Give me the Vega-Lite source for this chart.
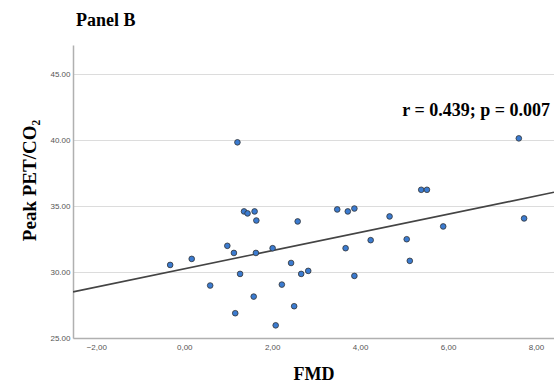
{
  "$schema": "https://vega.github.io/schema/vega-lite/v6.json",
  "width": 481,
  "height": 293,
  "autosize": "none",
  "padding": {"left": 73, "top": 45, "right": 0, "bottom": 48},
  "background": "white",
  "config": {
    "view": {"stroke": null},
    "font": "Liberation Sans"
  },
  "title": {
    "text": "Panel B",
    "anchor": "start",
    "frame": "group",
    "font": "Liberation Serif",
    "fontSize": 18,
    "fontWeight": "bold",
    "color": "#000",
    "offset": 15,
    "dx": 3
  },
  "datasets": {
    "points": [
      {"fmd": 1.21, "peak": 39.84},
      {"fmd": 1.36, "peak": 34.60},
      {"fmd": 1.44, "peak": 34.45},
      {"fmd": 1.60, "peak": 34.60},
      {"fmd": 1.64, "peak": 33.91},
      {"fmd": 2.58, "peak": 33.84},
      {"fmd": 3.48, "peak": 34.75},
      {"fmd": 3.72, "peak": 34.60},
      {"fmd": 3.87, "peak": 34.82},
      {"fmd": 4.67, "peak": 34.22},
      {"fmd": 4.24, "peak": 32.42},
      {"fmd": 3.67, "peak": 31.81},
      {"fmd": 3.87, "peak": 29.71},
      {"fmd": 2.82, "peak": 30.09},
      {"fmd": 2.66, "peak": 29.86},
      {"fmd": 2.43, "peak": 30.69},
      {"fmd": 2.01, "peak": 31.81},
      {"fmd": 1.63, "peak": 31.45},
      {"fmd": 1.13, "peak": 31.45},
      {"fmd": 0.98, "peak": 31.99},
      {"fmd": 0.17, "peak": 31.00},
      {"fmd": -0.32, "peak": 30.54},
      {"fmd": 1.27, "peak": 29.86},
      {"fmd": 0.59, "peak": 28.98},
      {"fmd": 2.22, "peak": 29.05},
      {"fmd": 1.58, "peak": 28.14},
      {"fmd": 2.50, "peak": 27.41},
      {"fmd": 1.16, "peak": 26.88},
      {"fmd": 2.08, "peak": 25.96},
      {"fmd": 7.61, "peak": 40.14},
      {"fmd": 5.39, "peak": 36.24},
      {"fmd": 5.52, "peak": 36.24},
      {"fmd": 7.73, "peak": 34.07},
      {"fmd": 5.89, "peak": 33.46},
      {"fmd": 5.06, "peak": 32.49},
      {"fmd": 5.13, "peak": 30.85}
    ],
    "fit": [
      {"fmd": -2.53, "peak": 28.50},
      {"fmd": 8.41, "peak": 36.05}
    ]
  },
  "layer": [
    {
      "data": {"name": "fit"},
      "mark": {"type": "line", "color": "#444", "strokeWidth": 1.6, "clip": true},
      "encoding": {
        "x": {
          "field": "fmd",
          "type": "quantitative",
          "scale": {"domain": [-2.53, 8.41], "nice": false, "zero": false},
          "axis": {
            "title": "FMD",
            "values": [-2, 0, 2, 4, 6, 8],
            "format": ".2f",
            "labelExpr": "replace(datum.label, '.', ',')",
            "grid": false,
            "ticks": false,
            "domainColor": "#b0b0b0",
            "domainWidth": 1.5,
            "labelFont": "Liberation Sans",
            "labelFontSize": 8,
            "labelColor": "#555",
            "labelPadding": 5,
            "titleFont": "Liberation Serif",
            "titleFontSize": 18,
            "titleFontWeight": "bold",
            "titleColor": "#000",
            "titlePadding": 14
          }
        },
        "y": {
          "field": "peak",
          "type": "quantitative",
          "scale": {"domain": [25, 47.22], "nice": false, "zero": false},
          "axis": {
            "title": "Peak PET/CO₂",
            "values": [25, 30, 35, 40, 45],
            "format": ".2f",
            "grid": true,
            "gridColor": "#dcdcdc",
            "gridWidth": 1.2,
            "ticks": false,
            "domainColor": "#b0b0b0",
            "domainWidth": 1.5,
            "labelFont": "Liberation Sans",
            "labelFontSize": 8,
            "labelColor": "#555",
            "labelPadding": 3,
            "titleFont": "Liberation Serif",
            "titleFontSize": 19,
            "titleFontWeight": "bold",
            "titleColor": "#000",
            "titlePadding": 10,
            "titleY": 135
          }
        }
      }
    },
    {
      "data": {"name": "points"},
      "mark": {"type": "point", "filled": true, "fill": "#3b7bd0", "stroke": "#333", "strokeWidth": 0.8, "size": 32, "opacity": 1},
      "encoding": {
        "x": {"field": "fmd", "type": "quantitative"},
        "y": {"field": "peak", "type": "quantitative"}
      }
    },
    {
      "data": {"values": [{"label": "r = 0.439; p = 0.007"}]},
      "mark": {"type": "text", "align": "right", "baseline": "alphabetic", "font": "Liberation Serif", "fontSize": 18, "fontWeight": "bold", "color": "#000"},
      "encoding": {
        "x": {"datum": 8.32, "type": "quantitative"},
        "y": {"datum": 41.83, "type": "quantitative"},
        "text": {"field": "label"}
      }
    }
  ]
}
